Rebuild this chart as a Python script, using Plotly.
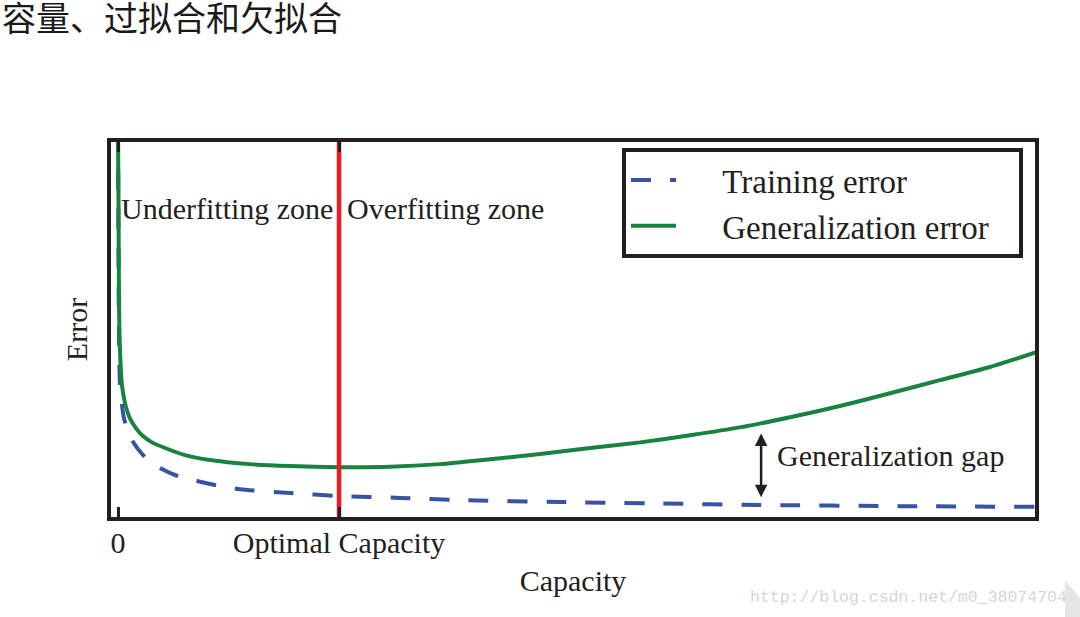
import plotly.graph_objects as go

# ---- data (capacity in units of the optimal capacity, error in arbitrary units) ----
gen_capacity = [0.0, 0.0023, 0.0045, 0.009, 0.018, 0.032, 0.054, 0.081, 0.109, 0.154,
                0.213, 0.303, 0.416, 0.597, 0.778, 1.0, 1.231, 1.457, 1.683, 1.910,
                2.136, 2.362, 2.588, 2.814, 3.041, 3.267, 3.493, 3.719, 3.946, 4.154]
gen_error = [1.03, 0.843, 0.577, 0.444, 0.351, 0.303, 0.263, 0.237, 0.218, 0.199,
             0.184, 0.165, 0.152, 0.141, 0.136, 0.133, 0.134, 0.141, 0.154, 0.168,
             0.184, 0.199, 0.218, 0.239, 0.266, 0.296, 0.330, 0.365, 0.400, 0.439]

train_capacity = [0.0, 0.0023, 0.0045, 0.009, 0.018, 0.027, 0.041, 0.063, 0.109, 0.154,
                  0.199, 0.258, 0.326, 0.416, 0.552, 0.778, 1.0, 1.276, 1.548, 2.0,
                  2.452, 2.905, 3.538, 4.154]
train_error = [1.03, 0.71, 0.484, 0.351, 0.298, 0.263, 0.237, 0.205, 0.168, 0.144,
               0.128, 0.112, 0.101, 0.088, 0.074, 0.064, 0.056, 0.051, 0.045, 0.040,
               0.036, 0.032, 0.029, 0.027]

optimal_capacity = 1.0
tick_values = [0, optimal_capacity]
tick_labels = ["0", "Optimal Capacity"]
gap_capacity = 2.91
gap_top_error = 0.227
gap_bottom_error = 0.053
gap_label_error = 0.163
zone_label_error = 0.822

BLUE = "#3953A4"
GREEN = "#17833F"
RED = "#ED1C24"
DARK = "#231F20"
FONT = "Liberation Serif"
PAD = "\u00a0" * 5

fig = go.Figure()
fig.add_trace(go.Scatter(
    x=train_capacity, y=train_error, mode="lines", name=PAD + "Training error",
    line=dict(color=BLUE, width=4, dash="20px,19px", shape="spline", smoothing=0.6)))
fig.add_trace(go.Scatter(
    x=gen_capacity, y=gen_error, mode="lines", name=PAD + "Generalization error" + "\u00a0" * 3,
    line=dict(color=GREEN, width=4, shape="spline", smoothing=0.6)))
fig.add_trace(go.Scatter(
    x=[optimal_capacity, optimal_capacity], y=[0, 1], mode="lines", showlegend=False,
    line=dict(color=RED, width=4.5), hoverinfo="skip"))

fig.add_annotation(x=optimal_capacity, y=zone_label_error, xref="x", yref="y",
                   text="Underfitting zone", showarrow=False, xanchor="right",
                   xshift=-4, font=dict(family=FONT, size=30, color=DARK))
fig.add_annotation(x=optimal_capacity, y=zone_label_error, xref="x", yref="y",
                   text="Overfitting zone", showarrow=False, xanchor="left",
                   xshift=6, font=dict(family=FONT, size=30, color=DARK))
fig.add_annotation(x=gap_capacity, y=gap_bottom_error, ax=gap_capacity, ay=gap_top_error,
                   xref="x", yref="y", axref="x", ayref="y", text="", showarrow=True,
                   arrowhead=2, startarrowhead=2, arrowside="end+start", arrowsize=1,
                   arrowwidth=2.5, arrowcolor=DARK)
fig.add_annotation(x=gap_capacity, y=gap_label_error,
                   xref="x", yref="y", text="Generalization gap", showarrow=False,
                   xanchor="left", xshift=14, font=dict(family=FONT, size=30, color=DARK))

# watermark
fig.add_annotation(x=1.0, y=0.0, xref="paper", yref="paper", xanchor="right", yanchor="bottom",
                   xshift=34, yshift=-92, text="http://blog.csdn.net/m0_38074704",
                   showarrow=False, font=dict(family="Liberation Mono", size=16.5, color="#D6D6D6"))

L, R, T, B = 111, 45, 142, 100
W = 1080 - L - R
H = 617 - T - B

# page-corner decoration (bottom right)
fig.add_shape(type="path", xref="paper", yref="paper", layer="above",
              path=f"M {(1065-L)/W} {(617-B-580)/H} L {(1080-L)/W} {(617-B-598)/H} "
                   f"L {(1080-L)/W} {(617-B-617)/H} L {(1065-L)/W} {(617-B-617)/H} Z",
              fillcolor="#E6E6E6", line=dict(width=0))

fig.update_layout(
    width=1080, height=617,
    margin=dict(l=L, r=R, t=T, b=B),
    paper_bgcolor="white", plot_bgcolor="white",
    title=dict(text="容量、过拟合和欠拟合", x=2 / 1080, xanchor="left", xref="container",
               y=1 - 19 / 617, yanchor="middle", yref="container",
               font=dict(family="Noto Sans CJK SC", size=34, color="#1a1a1a")),
    showlegend=True,
    legend=dict(x=(622 - L) / W, y=(617 - B - 148) / H, xanchor="left", yanchor="top",
                bgcolor="white", bordercolor=DARK, borderwidth=4,
                font=dict(family=FONT, size=33, color=DARK), itemwidth=45,
                tracegroupgap=0),
    xaxis=dict(range=[(L - 118) / 221, (1080 - R - 118) / 221], showgrid=False, zeroline=False,
               showline=True, linewidth=4, linecolor=DARK, mirror="ticks",
               ticks="inside", ticklen=10, tickwidth=2.5, tickcolor=DARK,
               tickvals=tick_values, ticktext=tick_labels, ticklabelstandoff=-4,
               tickfont=dict(family=FONT, size=30, color=DARK),
               title=dict(text="Capacity", font=dict(family=FONT, size=30, color=DARK), standoff=13)),
    yaxis=dict(range=[0, 1], showgrid=False, zeroline=False, showline=True, linewidth=4,
               linecolor=DARK, mirror=True, showticklabels=False, ticks="",
               title=dict(text="Error", font=dict(family=FONT, size=30, color=DARK), standoff=12)),
)

fig.write_html("out.html")
